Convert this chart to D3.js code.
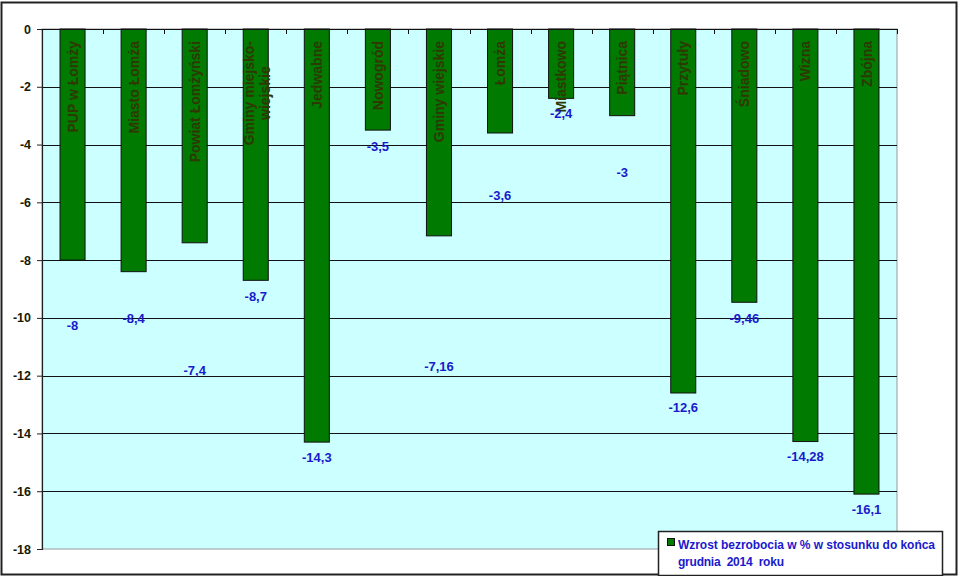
<!DOCTYPE html>
<html>
<head>
<meta charset="utf-8">
<script src="https://cdn.jsdelivr.net/npm/d3@7"></script>
<style>
  html, body { margin: 0; padding: 0; background: #fff; }
  svg { display: block; }
</style>
</head>
<body>
<svg id="chart" width="960" height="576"></svg>
<script>
// ---- data ----
const categories = [
  "PUP w Łomży", "Miasto Łomża", "Powiat Łomżyński", "Gminy miejsko-wiejskie",
  "Jedwabne", "Nowogród", "Gminy wiejskie", "Łomża", "Miastkowo", "Piątnica",
  "Przytuły", "Śniadowo", "Wizna", "Zbójna"
];
const values = [-8, -8.4, -7.4, -8.7, -14.3, -3.5, -7.16, -3.6, -2.4, -3, -12.6, -9.46, -14.28, -16.1];
const valueLabels = ["-8", "-8,4", "-7,4", "-8,7", "-14,3", "-3,5", "-7,16", "-3,6", "-2,4", "-3", "-12,6", "-9,46", "-14,28", "-16,1"];
// where each data label sits, in axis units (labels were moved by hand in the original)
const labelAt = [-10.24, -10.0, -11.83, -9.27, -14.84, -4.05, -11.66, -5.74, -2.91, -4.95, -13.11, -10.0, -14.78, -16.64];
const yTicks = [0, -2, -4, -6, -8, -10, -12, -14, -16, -18];
const legendLines = ["Wzrost bezrobocia w % w stosunku do końca", "grudnia  2014  roku"];

// ---- layout ----
const svg = d3.select("#chart");
const plot = { left: 42, right: 897, top: 29, bottom: 549 };
const FONT = "'Liberation Sans', Arial, sans-serif";

// outer border
svg.append("rect").attr("x", 1.5).attr("y", 2.5).attr("width", 955).attr("height", 572)
  .attr("fill", "#fff").attr("stroke", "#222").attr("stroke-width", 2);

const x = d3.scaleBand().domain(categories).range([plot.left, plot.right]).padding(0);
const y = d3.scaleLinear().domain([-18, 0]).range([plot.bottom, plot.top]);
const barW = x.bandwidth() * 0.41;

// plot background
svg.append("rect").attr("x", plot.left).attr("y", plot.top)
  .attr("width", plot.right - plot.left).attr("height", plot.bottom - plot.top)
  .attr("fill", "#ccffff").attr("stroke", "#999").attr("stroke-width", 1);

// gridlines
svg.append("g").selectAll("line").data(yTicks.filter(d => d !== 0 && d !== -18)).join("line")
  .attr("x1", plot.left).attr("x2", plot.right)
  .attr("y1", d => Math.round(y(d)) + 0.5).attr("y2", d => Math.round(y(d)) + 0.5)
  .attr("stroke", "#111").attr("stroke-width", 1);

// y axis
const yAxis = d3.axisLeft(y).tickValues(yTicks).tickSize(5).tickPadding(6).tickFormat(d3.format("d"));
const gy = svg.append("g").attr("transform", `translate(${plot.left},0)`).call(yAxis);
gy.select(".domain").attr("stroke", "#222").attr("stroke-width", 1.2);
gy.selectAll(".tick line").attr("stroke", "#222");
gy.selectAll(".tick text").attr("font-family", FONT).attr("font-weight", "bold")
  .attr("font-size", "12.5px").attr("fill", "#1a1a00").text(d => d === 0 ? "0" : String(d).replace("−", "-"));

// bars
svg.append("g").selectAll("rect").data(values).join("rect")
  .attr("x", (d, i) => x(categories[i]) + (x.bandwidth() - barW) / 2)
  .attr("y", y(0))
  .attr("width", barW)
  .attr("height", d => y(d) - y(0))
  .attr("fill", "#007a00").attr("stroke", "#111").attr("stroke-width", 1);

// x axis along 0 with ticks pointing down at category boundaries
svg.append("line").attr("x1", plot.left).attr("x2", plot.right)
  .attr("y1", y(0) + 0.5).attr("y2", y(0) + 0.5).attr("stroke", "#111").attr("stroke-width", 1.2);
const bounds = categories.map(c => x(c)).slice(1).concat([plot.right]);
svg.append("g").selectAll("line").data(bounds).join("line")
  .attr("x1", d => Math.round(d) + 0.5).attr("x2", d => Math.round(d) + 0.5)
  .attr("y1", y(0)).attr("y2", y(0) + 5).attr("stroke", "#111").attr("stroke-width", 1);

// category labels inside bars (rotated)
const catG = svg.append("g");
categories.forEach((c, i) => {
  const cx = x(c) + x.bandwidth() / 2;
  const top = 41;
  const parts = c.includes("-") ? [c.slice(0, c.indexOf("-") + 1), c.slice(c.indexOf("-") + 1)] : [c];
  if (parts.length === 1) {
    catG.append("text")
      .attr("transform", `translate(${cx},${top}) rotate(-90)`)
      .attr("text-anchor", "end").attr("dy", "0.36em")
      .attr("font-family", FONT).attr("font-weight", "bold").attr("font-size", "14px")
      .attr("fill", "#2f3800").text(c);
  } else {
    const t1 = catG.append("text")
      .attr("transform", `translate(${cx - 7},${top}) rotate(-90)`)
      .attr("text-anchor", "end").attr("dy", "0.36em")
      .attr("font-family", FONT).attr("font-weight", "bold").attr("font-size", "14px")
      .attr("fill", "#2f3800").text(parts[0]);
    const len = t1.node().getComputedTextLength();
    catG.append("text")
      .attr("transform", `translate(${cx + 9},${top + len / 2}) rotate(-90)`)
      .attr("text-anchor", "middle").attr("dy", "0.36em")
      .attr("font-family", FONT).attr("font-weight", "bold").attr("font-size", "14px")
      .attr("fill", "#2f3800").text(parts[1]);
  }
});

// data labels
svg.append("g").selectAll("text").data(valueLabels).join("text")
  .attr("x", (d, i) => x(categories[i]) + x.bandwidth() / 2)
  .attr("y", (d, i) => y(labelAt[i]))
  .attr("dy", "0.36em")
  .attr("text-anchor", "middle")
  .attr("font-family", FONT).attr("font-weight", "bold").attr("font-size", "13px")
  .attr("fill", "#1a1acc").text(d => d);

// legend
const lg = svg.append("g");
lg.append("rect").attr("x", 658.5).attr("y", 531.5).attr("width", 284).attr("height", 44)
  .attr("fill", "#fff").attr("stroke", "#222").attr("stroke-width", 1.5);
lg.append("rect").attr("x", 667.5).attr("y", 538.5).attr("width", 7).attr("height", 7)
  .attr("fill", "#007a00").attr("stroke", "#111").attr("stroke-width", 1);
const legendWidths = [257, 106];
lg.selectAll("text.leg").data(legendLines).join("text").attr("class", "leg")
  .attr("x", 678).attr("y", (d, i) => 549 + i * 17)
  .attr("font-family", FONT).attr("font-weight", "bold").attr("font-size", "12px")
  .attr("textLength", (d, i) => legendWidths[i]).attr("lengthAdjust", "spacing")
  .style("white-space", "pre")
  .attr("fill", "#1a1acc").text(d => d);
</script>
</body>
</html>
